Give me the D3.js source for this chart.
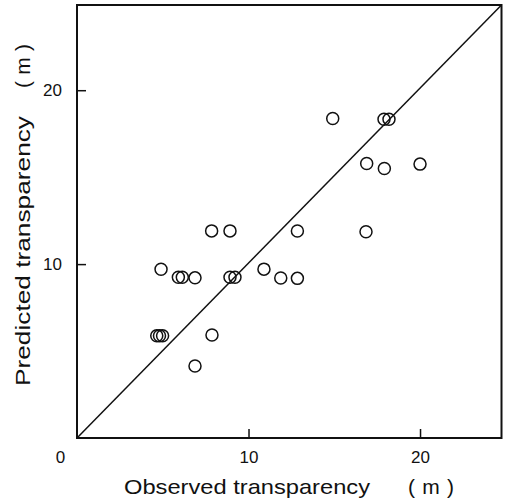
<!DOCTYPE html>
<html>
<head>
<meta charset="utf-8">
<script src="https://cdn.jsdelivr.net/npm/d3@7"></script>
<style>
  body { margin: 0; background: #fff; }
  text { font-family: "Liberation Sans", Arial, sans-serif; fill: #111; }
</style>
</head>
<body>
<div id="chart"></div>
<script>
// observed vs predicted transparency (m)
const observed = [7.85, 8.92, 12.85, 4.9, 5.91, 6.14, 6.88, 8.92, 9.21, 10.9, 11.88, 12.85,
  4.65, 4.81, 4.99, 7.87, 6.88, 14.91, 17.9, 18.19, 16.89, 17.92, 20.0, 16.85];
const predicted = [11.91, 11.91, 11.9, 9.7, 9.24, 9.24, 9.21, 9.24, 9.24, 9.71, 9.2, 9.18,
  5.88, 5.88, 5.88, 5.92, 4.14, 18.37, 18.33, 18.33, 15.79, 15.5, 15.75, 11.86];
const xTicks = [0, 10, 20];
const yTicks = [10, 20];

const W = 506, H = 503;
const data = observed.map((o, i) => ({ obs: o, pred: predicted[i] }));

const svg = d3.select("#chart").append("svg")
  .attr("width", W)
  .attr("height", H);

const x = d3.scaleLinear().domain([0, 24.75]).range([77, 501.5]);
const y = d3.scaleLinear().domain([0, 24.9]).range([438, 5]);

// x axis, ticks pointing inward
const xAxis = svg.append("g")
  .attr("transform", `translate(0,${y(0)})`)
  .call(d3.axisBottom(x).tickValues(xTicks).tickSize(-9).tickPadding(13).tickFormat(d3.format("d")));
xAxis.select(".domain").remove();
xAxis.selectAll(".tick line").attr("stroke", "#111").attr("stroke-width", 1.5)
  .filter(d => d === 0).remove();
xAxis.selectAll(".tick text").attr("font-size", 17).attr("dy", "0.71em");
xAxis.selectAll(".tick").filter(d => d === 0).select("text").attr("x", -17);

const yAxis = svg.append("g")
  .attr("transform", `translate(${x(0)},0)`)
  .call(d3.axisLeft(y).tickValues(yTicks).tickSize(-9).tickPadding(15).tickFormat(d3.format("d")));
yAxis.select(".domain").remove();
yAxis.selectAll(".tick line").attr("stroke", "#111").attr("stroke-width", 1.5);
yAxis.selectAll(".tick text").attr("font-size", 17);

// frame
svg.append("rect")
  .attr("x", x(0)).attr("y", y(24.9))
  .attr("width", x(24.75) - x(0)).attr("height", y(0) - y(24.9))
  .attr("fill", "none").attr("stroke", "#111").attr("stroke-width", 2);

// 1:1 line
svg.append("line")
  .attr("x1", x(0)).attr("y1", y(0))
  .attr("x2", x(24.75)).attr("y2", y(24.9))
  .attr("stroke", "#111").attr("stroke-width", 1.5);

svg.selectAll("circle").data(data).enter().append("circle")
  .attr("cx", d => x(d.obs))
  .attr("cy", d => y(d.pred))
  .attr("r", 6)
  .attr("fill", "none")
  .attr("stroke", "#111")
  .attr("stroke-width", 1.5);

// axis titles
svg.append("text")
  .attr("x", 124).attr("y", 494)
  .attr("font-size", 21)
  .attr("textLength", 246).attr("lengthAdjust", "spacingAndGlyphs")
  .text("Observed transparency");
svg.append("text")
  .attr("x", 408).attr("y", 494)
  .attr("font-size", 21)
  .attr("textLength", 46).attr("lengthAdjust", "spacing")
  .text("( m )");

const yt = svg.append("g").attr("transform", "translate(30,0) rotate(-90)");
yt.append("text")
  .attr("x", -386).attr("y", 0)
  .attr("font-size", 21)
  .attr("textLength", 270).attr("lengthAdjust", "spacingAndGlyphs")
  .text("Predicted transparency");
yt.append("text")
  .attr("x", -88).attr("y", 0)
  .attr("font-size", 21)
  .attr("textLength", 44).attr("lengthAdjust", "spacing")
  .text("( m )");
</script>
</body>
</html>
